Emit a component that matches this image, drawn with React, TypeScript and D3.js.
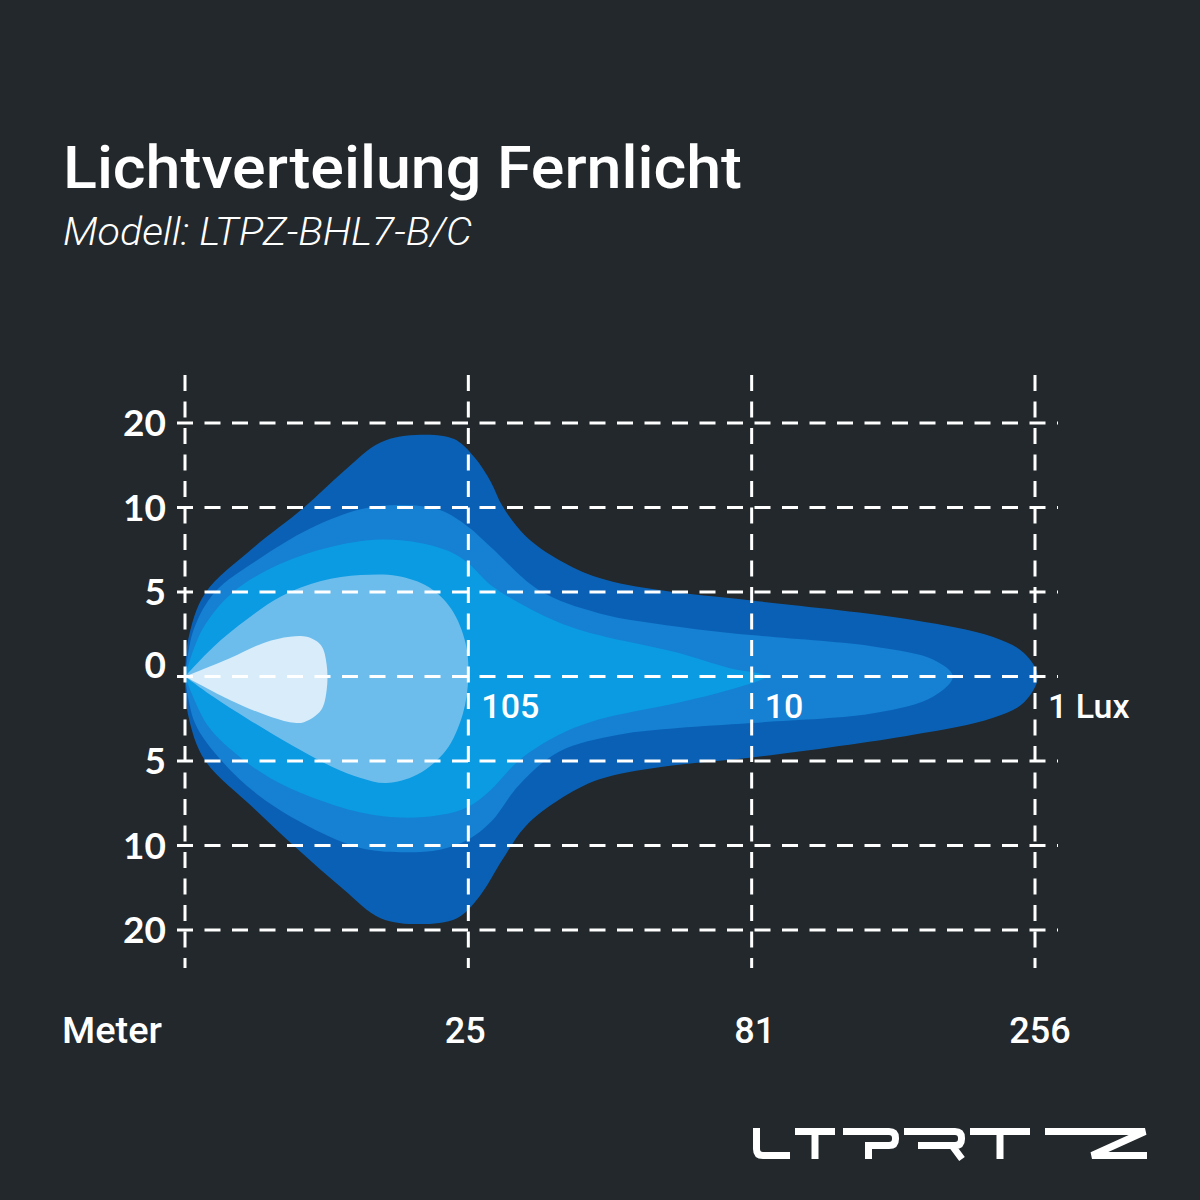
import React from "react";
import * as d3 from "d3";

// ---- Data (grid units: x = distance step 0..3, y = lateral step -3..3) ----
const xTickValues = [0, 1, 2, 3];
const xTickLabels = ["", "25", "81", "256"];
const yTickValues = [3, 2, 1, 0, -1, -2, -3];
const yTickLabels = ["20", "10", "5", "0", "5", "10", "20"];
const luxLabels = ["105", "10", "1 Lux"];
const luxLabelX = [1, 2, 3];

const layerColors = ["#0a60b4", "#1680d3", "#0a9be2", "#6cbdec", "#d8ecfa"];

// 1 Lux
const contour1: [number, number][] = [
  [0, 0], [0.012, 0.45], [0.07, 0.98], [0.24, 1.52], [0.42, 2.0], [0.56, 2.43],
  [0.69, 2.77], [0.83, 2.86], [0.95, 2.81], [1.02, 2.6], [1.08, 2.3], [1.12, 2.02], [1.2, 1.67],
  [1.32, 1.38], [1.46, 1.17], [1.68, 1.02], [2.0, 0.9], [2.57, 0.67], [2.85, 0.47], [2.96, 0.28],
  [3.01, 0], [2.96, -0.31], [2.85, -0.49], [2.57, -0.69], [2.0, -0.96], [1.68, -1.07],
  [1.46, -1.22], [1.32, -1.46], [1.2, -1.78], [1.12, -2.17], [1.04, -2.6], [0.96, -2.86],
  [0.83, -2.93], [0.69, -2.86], [0.56, -2.52], [0.4, -2.05], [0.24, -1.55], [0.07, -0.99],
  [0.012, -0.47], [0, 0],
];
// 10 Lux
const contour2: [number, number][] = [
  [0, 0], [0.03, 0.55], [0.106, 1.0], [0.265, 1.4], [0.44, 1.75], [0.62, 1.98],
  [0.76, 2.03], [0.9, 1.97], [1.0, 1.77], [1.08, 1.53], [1.25, 1.02], [1.46, 0.75], [1.74, 0.59],
  [2.0, 0.49], [2.44, 0.35], [2.64, 0.2], [2.71, 0], [2.64, -0.24], [2.44, -0.43], [2.0, -0.55],
  [1.74, -0.61], [1.53, -0.69], [1.32, -0.89], [1.18, -1.28], [1.08, -1.72], [1.0, -1.93],
  [0.9, -2.05], [0.76, -2.08], [0.62, -2.03], [0.44, -1.78], [0.265, -1.42], [0.13, -1.0],
  [0.035, -0.55], [0, 0],
];
// 25 Lux
const contour3: [number, number][] = [
  [0, 0], [0.06, 0.55], [0.17, 1.0], [0.335, 1.33], [0.51, 1.53], [0.69, 1.62],
  [0.83, 1.58], [0.94, 1.47], [1.0, 1.34], [1.08, 1.08], [1.18, 0.87], [1.32, 0.64], [1.46, 0.49],
  [1.74, 0.28], [1.92, 0.1], [2.05, 0], [1.92, -0.16], [1.74, -0.31], [1.46, -0.51], [1.32, -0.69],
  [1.18, -0.99], [1.08, -1.34], [1.0, -1.54], [0.9, -1.64], [0.76, -1.67], [0.62, -1.61],
  [0.44, -1.42], [0.3, -1.2], [0.2, -0.97], [0.08, -0.58], [0, 0],
];
// 105 Lux
const contour4: [number, number][] = [
  [0, 0], [0.1, 0.35], [0.22, 0.68], [0.34, 0.95], [0.48, 1.13], [0.62, 1.2], [0.75, 1.19],
  [0.86, 1.06], [0.94, 0.8], [0.99, 0.4], [1.0, 0], [0.98, -0.45], [0.92, -0.88],
  [0.82, -1.16], [0.71, -1.26], [0.62, -1.2], [0.52, -1.07], [0.38, -0.82], [0.22, -0.5],
  [0.1, -0.24], [0, 0],
];
// core
const contour5: [number, number][] = [
  [0, 0], [0.16, 0.22], [0.28, 0.4], [0.37, 0.47], [0.43, 0.47], [0.48, 0.37], [0.5, 0.14],
  [0.5, -0.16], [0.48, -0.4], [0.42, -0.54], [0.37, -0.54], [0.28, -0.45], [0.16, -0.28], [0, 0],
];
const contours = [contour1, contour2, contour3, contour4, contour5];

const BG = "#22282b";

export default function App() {
  const x = d3.scaleLinear().domain([0, 3]).range([185, 1035]);
  const y = d3.scaleLinear().domain([-3, 3]).range([930, 423]);
  const line = d3
    .line<[number, number]>()
    .x((d) => x(d[0]))
    .y((d) => y(d[1]))
    .curve(d3.curveCatmullRom.alpha(0.5));

  const dashStyle = { stroke: "#ffffff", strokeWidth: 3, fill: "none" };

  return (
    <svg
      width={1200}
      height={1200}
      style={{ position: "absolute", left: 0, top: 0, display: "block" }}
    >
      <rect x={0} y={0} width={1200} height={1200} fill={BG} />

      <text
        x={63}
        y={188}
        fill="#ffffff"
        fontFamily="Roboto, sans-serif"
        fontWeight={500}
        fontSize={60}
        textLength={679}
        lengthAdjust="spacingAndGlyphs"
      >
        Lichtverteilung Fernlicht
      </text>
      <text
        x={63}
        y={245}
        fill="#ffffff"
        fontFamily="Roboto, sans-serif"
        fontWeight={300}
        fontStyle="italic"
        fontSize={38}
        textLength={409}
        lengthAdjust="spacingAndGlyphs"
      >
        Modell: LTPZ-BHL7-B/C
      </text>

      {contours.map((c, i) => (
        <path key={i} d={line(c) || ""} fill={layerColors[i]} />
      ))}

      {/* grid */}
      {yTickValues.map((v) => (
        <line
          key={"h" + v}
          x1={177}
          x2={1058}
          y1={y(v)}
          y2={y(v)}
          {...dashStyle}
          strokeDasharray="16 11.5"
        />
      ))}
      {xTickValues.map((v) => (
        <line
          key={"v" + v}
          x1={x(v)}
          x2={x(v)}
          y1={375}
          y2={968}
          {...dashStyle}
          strokeDasharray="16 10.5"
        />
      ))}

      {/* y labels */}
      {yTickValues.map((v, i) => (
        <text
          key={"yl" + v}
          x={166}
          y={y(v) + (v === 0 ? -12 : 0)}
          dy="0.36em"
          textAnchor="end"
          fill="#ffffff"
          fontFamily="Lato, sans-serif"
          fontWeight={700}
          fontSize={37}
        >
          {yTickLabels[i]}
        </text>
      ))}

      {/* x labels */}
      <text
        x={62}
        y={1043}
        fill="#ffffff"
        fontFamily="Roboto, sans-serif"
        fontWeight={500}
        fontSize={36}
        textLength={100}
        lengthAdjust="spacingAndGlyphs"
      >
        Meter
      </text>
      {xTickValues.map((v, i) =>
        xTickLabels[i] ? (
          <text
            key={"xl" + v}
            x={x(v) + (i === 3 ? 5 : i === 2 ? 3 : -3)}
            y={1043}
            textAnchor="middle"
            fill="#ffffff"
            fontFamily="Roboto, sans-serif"
            fontWeight={500}
            fontSize={36}
          >
            {xTickLabels[i]}
          </text>
        ) : null
      )}

      {/* lux labels */}
      {luxLabels.map((t, i) => (
        <text
          key={"lux" + i}
          x={x(luxLabelX[i]) + 13}
          y={718}
          fill="#ffffff"
          fontFamily="Roboto, sans-serif"
          fontWeight={500}
          fontSize={34}
        >
          {t}
        </text>
      ))}

      {/* logo */}
      <g fill="none" stroke="#ffffff" strokeWidth={7}>
        <path d="M756.5,1128 V1149 Q756.5,1155.5 763,1155.5 H790" />
        <path d="M795,1131.5 H835 M815,1131.5 V1159" />
        <path d="M843,1131.5 H889 Q895.5,1131.5 895.5,1138 V1139 Q895.5,1145.5 889,1145.5 H868.5 V1159" />
        <path d="M904,1131.5 H955 Q961.5,1131.5 961.5,1138 V1139 Q961.5,1145.5 955,1145.5 H918 M952,1145.5 L962,1159" />
        <path d="M970,1131.5 H1030 M1000,1131.5 V1159" />
        <path d="M1045,1131.5 H1145 L1092,1155.5 H1147" />
      </g>
    </svg>
  );
}
